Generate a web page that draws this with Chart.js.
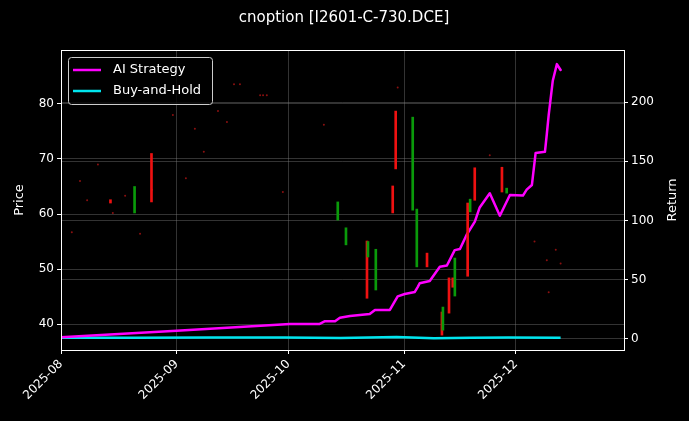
<!DOCTYPE html>
<html><head><meta charset="utf-8">
<script src="https://cdn.jsdelivr.net/npm/chart.js@4"></script>
<style>html,body{margin:0;background:#000}#w{width:689px;height:421px}</style>
</head><body><div id="w"><canvas id="c"></canvas></div>
<script>
// x values are days since 2025-08-01
const monthTicks = [0, 31, 61, 92, 122];
const monthLabels = ['2025-08', '2025-09', '2025-10', '2025-11', '2025-12'];
const priceTicks = [40, 50, 60, 70, 80];
const returnTicks = [0, 50, 100, 150, 200];

const upDays   = [20, 74.5, 76.7, 82.6, 84.7, 94.6, 95.7, 102.7, 105.9, 110, 119.8];
const upLo     = [60.2, 58.9, 54.4, 52.2, 46.2, 60.7, 50.4, 38.9, 45.1, 60.4, 63.8];
const upHi     = [65, 62.2, 57.5, 55, 53.6, 77.6, 60.9, 43.1, 52, 62.7, 64.7];
const downDays = [13, 24, 81.8, 88.7, 89.5, 97.9, 101.9, 103.8, 104.8, 108.8, 110.7, 118];
const downLo   = [62, 62.2, 44.7, 60.2, 68.2, 50.4, 38, 42, 46.7, 48.7, 62.5, 64];
const downHi   = [62.6, 71, 55.1, 65.1, 78.7, 52.9, 42.2, 48.4, 48.4, 62, 68.4, 68.5];
const dojiDays = [2.9, 5.1, 7, 9.9, 13.9, 17.2, 21.2, 24.4, 30, 31.4, 33.5, 35.9, 38.3, 42.1, 44.5, 46.4, 48, 53.4, 54.2, 55.2, 59.5, 70.5, 90.3, 115, 127, 130.3, 132.7, 134, 130.8];
const dojiPrice = [56.7, 66, 62.5, 69, 60.2, 63.3, 56.4, 64.4, 78, 83.3, 66.5, 75.5, 71.3, 78.7, 76.7, 83.6, 83.6, 81.6, 81.6, 81.6, 64, 76.2, 83, 70.7, 55, 51.6, 53.5, 51, 45.8];

const aiDays = [0, 31, 61.4, 69.4, 70.8, 73.5, 74.8, 77.5, 82.8, 84.2, 88.2, 90.3, 92.2, 94.9, 95.7, 96.2, 98.9, 101.6, 103.5, 105.6, 107, 108.8, 111, 112.3, 115, 117.7, 120.4, 123.9, 124.9, 126.3, 127.3, 129.8, 130.3, 130.8, 131.9, 133, 134];
const aiReturn = [1.5, 7, 12.7, 12.7, 15, 15, 18, 19.4, 21, 24.5, 24.5, 36, 38, 39.7, 44, 47, 49, 61, 62, 75, 76, 88, 99, 111, 123, 104, 121.5, 121, 126, 130, 157, 158, 173, 189, 218, 232, 227];
const bhDays = [0, 20, 40, 60, 75, 90, 100, 110, 120, 134];
const bhReturn = [1, 1, 1.3, 1.2, 0.8, 1.6, 0.6, 1, 1.2, 1];

const zip = (xs, ys) => xs.map((x, i) => ({x, y: ys[i]}));
const zipR = (xs, a, b) => xs.map((x, i) => ({x, y: [a[i], b[i]]}));

const bg = {id:'bg', beforeDraw(c){const g=c.ctx;g.save();g.fillStyle='#000';g.fillRect(0,0,c.width,c.height);g.restore();}};
const deco = {id:'deco', afterDraw(c){
  const g=c.ctx, a=c.chartArea; g.save();
  g.strokeStyle='#fff'; g.lineWidth=1; g.strokeRect(a.left+0.5,a.top+0.5,a.right-a.left,a.bottom-a.top);
  g.fillStyle='#fff'; g.font='15px "DejaVu Sans"'; g.textAlign='center'; g.textBaseline='middle';
  g.fillText('cnoption [I2601-C-730.DCE]', 344, 18);
  g.font='13px "DejaVu Sans"';
  const cy=(a.top+a.bottom)/2;
  [['Price',20],['Return',673]].forEach(t=>{g.save();g.translate(t[1],cy);g.rotate(-Math.PI/2);g.fillText(t[0],0,0);g.restore();});
  // legend
  const lx=a.left+7, ly=a.top+7;
  g.fillStyle='rgba(0,0,0,0.8)'; g.strokeStyle='#ccc'; g.lineWidth=1;
  g.beginPath(); g.roundRect(lx+0.5,ly+0.5,144,47,3); g.fill(); g.stroke();
  const items=[['AI Strategy','#ff00ff'],['Buy-and-Hold','#00e5ee']];
  g.font='13px "DejaVu Sans"'; g.textAlign='left';
  items.forEach((it,i)=>{const y=ly+13+i*21; g.strokeStyle=it[1]; g.lineWidth=2.5; g.beginPath(); g.moveTo(lx+5,y); g.lineTo(lx+33,y); g.stroke(); g.fillStyle='#fff'; g.fillText(it[0],lx+45,y);});
  g.restore();
}};
const grid = {color:'rgba(128,128,128,0.4)', borderDash:[3,3], offset:false, drawTicks:true, tickColor:'#fff', tickLength:4};
new Chart(document.getElementById('c'), {
  data:{datasets:[
    {type:'bar', data:zipR(upDays,upLo,upHi), backgroundColor:'#0a9a0a', barThickness:2, yAxisID:'y'},
    {type:'bar', data:zipR(downDays,downLo,downHi), backgroundColor:'#ee1111', barThickness:2, yAxisID:'y'},
    {type:'scatter', data:zip(dojiDays,dojiPrice), pointRadius:1, pointBorderWidth:0, backgroundColor:'#8b1010', yAxisID:'y'},
    {type:'line', data:zip(aiDays,aiReturn), borderColor:'#ff00ff', borderWidth:2.5, borderJoinStyle:'round', borderCapStyle:'round', pointRadius:0, yAxisID:'y1', tension:0},
    {type:'line', data:zip(bhDays,bhReturn), borderColor:'#00e5ee', borderWidth:2.5, borderJoinStyle:'round', pointRadius:0, yAxisID:'y1', tension:0}
  ]},
  options:{responsive:true, maintainAspectRatio:false, animation:false,
    layout:{padding:{top:50,left:0,right:0,bottom:0}},
    plugins:{legend:{display:false}, tooltip:{enabled:false}},
    scales:{
      x:{type:'linear', min:0, max:151, offset:false, grid:grid,
        afterBuildTicks(s){s.ticks=monthTicks.map(v=>({value:v}));},
        afterFit(s){s.height=71;},
        ticks:{color:'#fff', font:{family:'DejaVu Sans',size:12}, maxRotation:45, minRotation:45,
          callback(v){const i=monthTicks.indexOf(v);return i>=0?monthLabels[i]:'';}}},
      y:{position:'left', min:35.3, max:89.8, grid:grid,
        afterBuildTicks(s){s.ticks=priceTicks.map(v=>({value:v}));},
        afterFit(s){s.width=61;},
        ticks:{color:'#fff', font:{family:'DejaVu Sans',size:12}}},
      y1:{position:'right', min:-9.3, max:243.9, grid:grid,
        afterBuildTicks(s){s.ticks=returnTicks.map(v=>({value:v}));},
        afterFit(s){s.width=65;},
        ticks:{color:'#fff', font:{family:'DejaVu Sans',size:12}}}
    }},
  plugins:[bg,deco]
});
</script></body></html>
